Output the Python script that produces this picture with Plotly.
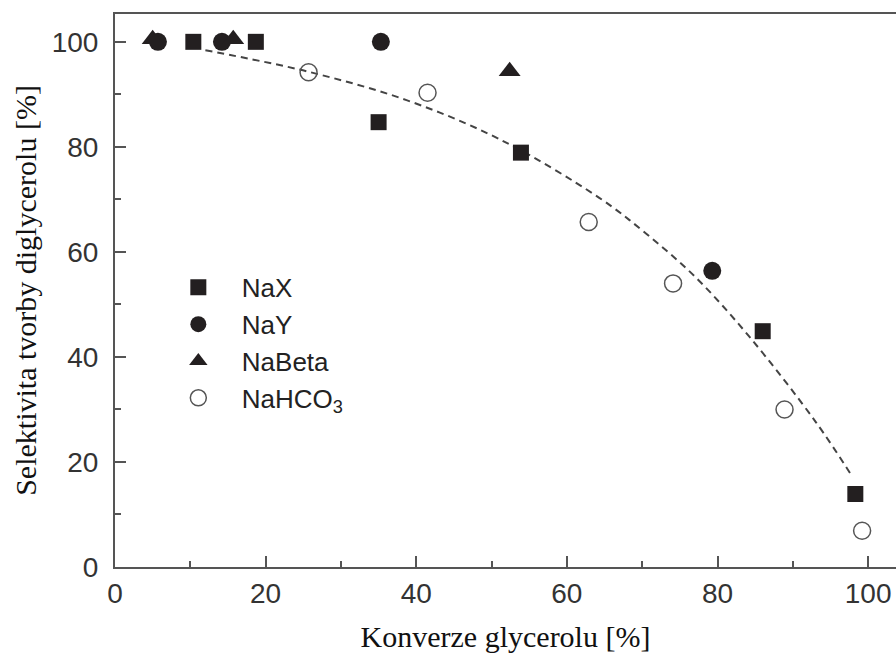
import plotly.graph_objects as go

# Data
nax_x = [10.4, 18.7, 35.0, 53.9, 86.0, 98.3]
nax_y = [100.0, 100.0, 84.7, 78.9, 44.9, 13.9]

nay_x = [5.7, 14.2, 35.3, 79.3]
nay_y = [100.0, 100.0, 100.0, 56.4]

nabeta_x = [5.0, 15.7, 52.4]
nabeta_y = [100.5, 100.5, 94.4]

nahco3_x = [25.7, 41.5, 62.9, 74.1, 88.9, 99.2]
nahco3_y = [94.2, 90.3, 65.7, 54.0, 30.0, 6.9]

# dashed trend curve
fit_x = [12.0, 25.7, 38.7, 51.0, 64.3, 70.5, 77.0, 84.2, 93.1, 97.9]
fit_y = [98.4, 94.3, 88.9, 81.5, 70.3, 63.5, 55.3, 43.9, 27.5, 17.2]

x_ticks = [0, 20, 40, 60, 80, 100]
y_ticks = [0, 20, 40, 60, 80, 100]

ink = "#231f20"
axis_col = "#555555"

fig = go.Figure()
fig.add_trace(go.Scatter(x=fit_x, y=fit_y, mode="lines", showlegend=False,
                         line=dict(color="#444444", width=2, dash="7px,5px", shape="spline"),
                         hoverinfo="skip"))
fig.add_trace(go.Scatter(x=nax_x, y=nax_y, mode="markers", name="NaX",
                         marker=dict(symbol="square", size=16, color=ink)))
fig.add_trace(go.Scatter(x=nay_x, y=nay_y, mode="markers", name="NaY",
                         marker=dict(symbol="circle", size=18, color=ink)))
fig.add_trace(go.Scatter(x=nabeta_x, y=nabeta_y, mode="markers", name="NaBeta",
                         marker=dict(symbol="triangle-up", size=19, color=ink)))
fig.add_trace(go.Scatter(x=nahco3_x, y=nahco3_y, mode="markers", name="NaHCO<sub>3</sub>",
                         marker=dict(symbol="circle-open", size=17, color="#555555",
                                     line=dict(width=1.5, color="#555555"))))

fig.update_layout(
    width=896, height=653,
    margin=dict(l=115, r=0, t=14, b=86),
    paper_bgcolor="white", plot_bgcolor="white",
    showlegend=True,
    legend=dict(x=0.051, y=0.548, xanchor="left", yanchor="top",
                font=dict(family="Liberation Sans, Arial", size=26, color="#222"),
                bgcolor="rgba(0,0,0,0)", itemwidth=77),
)

fig.update_xaxes(
    range=[0, 103.7], tickvals=x_ticks, ticktext=[str(v) for v in x_ticks],
    showgrid=False, zeroline=False,
    showline=True, linecolor=axis_col, linewidth=2, mirror=True,
    ticks="inside", ticklen=11, tickwidth=2, tickcolor=axis_col,
    minor=dict(dtick=10, ticks="inside", ticklen=6, tickwidth=2, tickcolor=axis_col),
    tickfont=dict(family="Liberation Sans, Arial", size=28, color="#333"),
    ticklabelstandoff=0,
    title=dict(text="Konverze glycerolu [%]", standoff=18,
               font=dict(family="Liberation Serif, Times New Roman", size=30, color="#111")),
)
fig.update_yaxes(
    range=[0, 105.3], tickvals=y_ticks, ticktext=[str(v) for v in y_ticks],
    showgrid=False, zeroline=False,
    showline=True, linecolor=axis_col, linewidth=2, mirror=False,
    ticks="inside", ticklen=11, tickwidth=2, tickcolor=axis_col,
    minor=dict(dtick=10, ticks="inside", ticklen=6, tickwidth=2, tickcolor=axis_col),
    tickfont=dict(family="Liberation Sans, Arial", size=28, color="#333"),
    ticklabelstandoff=9,
    title=dict(text="Selektivita tvorby diglycerolu [%]", standoff=6,
               font=dict(family="Liberation Serif, Times New Roman", size=30, color="#111")),
)

fig.write_html("out.html")
